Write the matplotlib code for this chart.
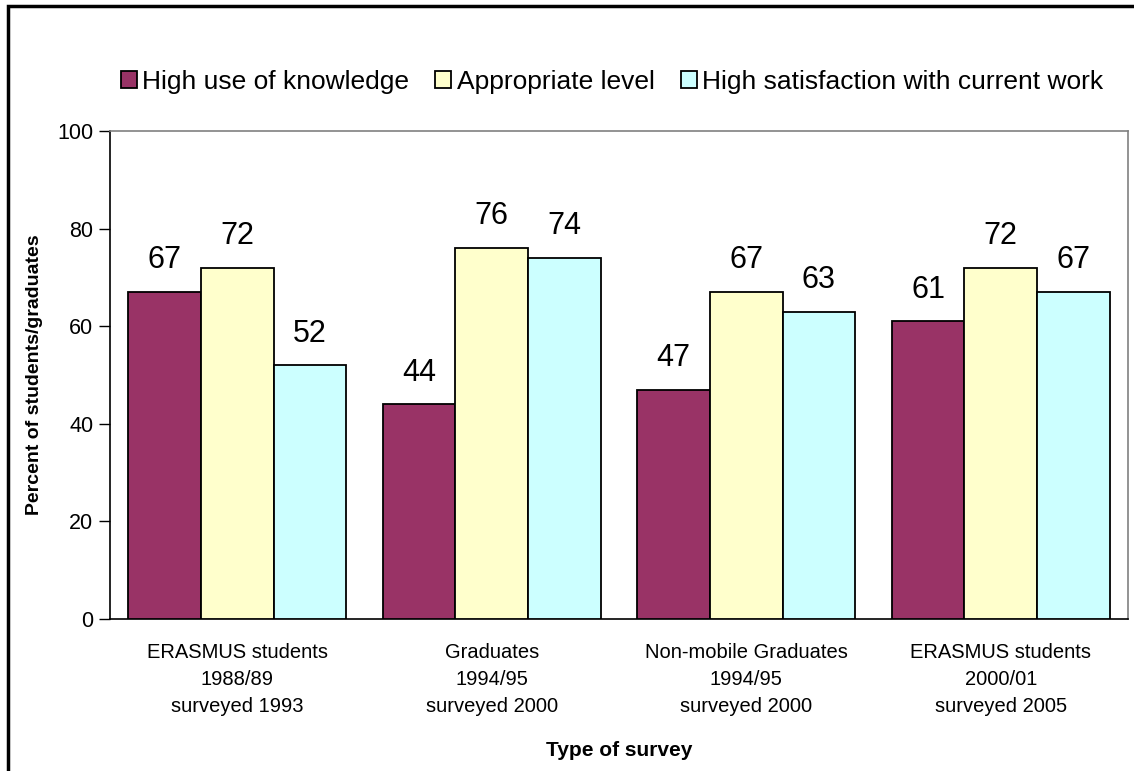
import matplotlib
matplotlib.use("Agg")
import numpy as np
import matplotlib.pyplot as plt
from matplotlib.patches import Rectangle

# === DANE ===
categories = [
    "ERASMUS students\n1988/89\nsurveyed 1993",
    "Graduates\n1994/95\nsurveyed 2000",
    "Non-mobile Graduates\n1994/95\nsurveyed 2000",
    "ERASMUS students\n2000/01\nsurveyed 2005",
]
series_names = ["High use of knowledge", "Appropriate level",
                "High satisfaction with current work"]
high_use = [67, 44, 47, 61]
appropriate = [72, 76, 67, 72]
satisfaction = [52, 74, 63, 67]
colors = ["#993366", "#FFFFCC", "#CCFFFF"]

plt.rcParams['font.family'] = ['Liberation Sans', 'DejaVu Sans']

# === WYKRES ===
fig = plt.figure(figsize=(11.34, 7.71), dpi=100)
ax = fig.add_axes([110 / 1134, 1 - 619 / 771, 1018 / 1134, 488 / 771])

x = np.arange(len(categories))
width = 1 / 3.5
for i, (vals, name, col) in enumerate(zip([high_use, appropriate, satisfaction], series_names, colors)):
    bars = ax.bar(x + (i - 1) * width, vals, width, color=col, edgecolor='black',
                  linewidth=1.3, label=name, zorder=3)
    for b, v in zip(bars, vals):
        ax.annotate(str(v), (b.get_x() + b.get_width() / 2, v), xytext=(0, 12),
                    textcoords='offset points', ha='center', va='bottom', fontsize=22)

ax.set_xlim(-0.5, len(categories) - 0.5)
ax.set_ylim(0, 100)
ax.set_yticks(range(0, 101, 20))
ax.set_xticks(x)
ax.set_xticklabels(categories, fontsize=14.5, linespacing=1.55)
ax.tick_params(axis='x', length=0, pad=17)
ax.tick_params(axis='y', labelsize=15.5, length=8, width=1, pad=4)

for s in ['top', 'right']:
    ax.spines[s].set_color('#808080')
    ax.spines[s].set_linewidth(1.2)
for s in ['left', 'bottom']:
    ax.spines[s].set_color('black')
    ax.spines[s].set_linewidth(1.2)

ax.set_ylabel("Percent of students/graduates", fontsize=14, fontweight='bold', labelpad=10)
ax.set_xlabel("Type of survey", fontsize=15, fontweight='bold', labelpad=18)

fig.legend(loc='center', bbox_to_anchor=(612 / 1134, 1 - 82 / 771), ncol=3, frameon=False,
           fontsize=19, handlelength=0.6, handleheight=0.6, handletextpad=0.2,
           columnspacing=1.0, borderaxespad=0)

# ramka wokół całego obrazka
fig.patches.append(Rectangle((8 / 1134, -0.1), 1.2, 1 - 6 / 771 + 0.1, transform=fig.transFigure,
                             fill=False, edgecolor='black', linewidth=2.5, zorder=0))

fig.savefig("out.png", dpi=100)
